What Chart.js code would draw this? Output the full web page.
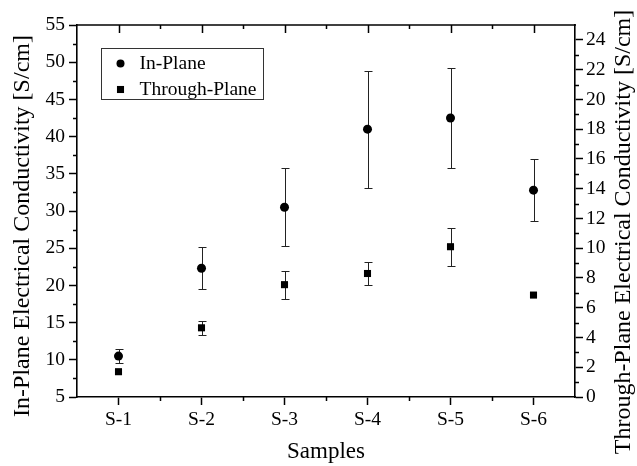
<!DOCTYPE html>
<html>
<head>
<meta charset="utf-8">
<title>Electrical Conductivity</title>
<script src="https://cdn.jsdelivr.net/npm/chart.js@4.4.1/dist/chart.umd.min.js"></script>
<style>
  html, body { margin: 0; padding: 0; background: #fff; }
</style>
</head>
<body>
<canvas id="chart" width="637" height="466"></canvas>
<script>
// 데이터
const samples = ['S-1', 'S-2', 'S-3', 'S-4', 'S-5', 'S-6'];

const inPlane = [10.5, 22.3, 30.5, 41.0, 42.5, 32.8];
const inPlaneLow = [9.6, 19.5, 25.3, 33.1, 35.8, 28.6];
const inPlaneHigh = [11.5, 25.1, 35.8, 48.8, 49.2, 37.0];

const throughPlane = [1.7, 4.65, 7.55, 8.3, 10.1, 6.85];
const throughPlaneLow = [1.7, 4.2, 6.6, 7.55, 8.8, 6.85];
const throughPlaneHigh = [1.7, 5.1, 8.5, 9.05, 11.35, 6.85];

// 축 범위
const leftRange = [5, 55];
const leftStep = 5;
const rightRange = [0, 25];
const rightStep = 2;

const xTitle = 'Samples';
const leftTitle = 'In-Plane Electrical Conductivity [S/cm]';
const rightTitle = 'Through-Plane Electrical Conductivity [S/cm]';

const FONT = "'Liberation Serif', 'Times New Roman', serif";

Chart.defaults.font.family = FONT;
Chart.defaults.font.size = 19.5;
Chart.defaults.color = '#000';

// 오차 막대
const errorBarPlugin = {
    id: 'errorBars',
    beforeDatasetsDraw(chart) {
        const ctx = chart.ctx;
        const xs = chart.scales.x;
        ctx.save();
        ctx.strokeStyle = '#222';
        ctx.lineWidth = 1;
        chart.data.datasets.forEach(ds => {
            const ys = chart.scales[ds.yAxisID];
            ds.errLow.forEach((lo, i) => {
                const hi = ds.errHigh[i];
                if (hi - lo < 0.05) return;
                const px = Math.round(xs.getPixelForValue(i)) + 0.5;
                const y1 = Math.round(ys.getPixelForValue(hi)) + 0.5;
                const y2 = Math.round(ys.getPixelForValue(lo)) + 0.5;
                ctx.beginPath();
                ctx.moveTo(px, y1);
                ctx.lineTo(px, y2);
                ctx.moveTo(px - 4, y1);
                ctx.lineTo(px + 4, y1);
                ctx.moveTo(px - 4, y2);
                ctx.lineTo(px + 4, y2);
                ctx.stroke();
            });
        });
        ctx.restore();
    }
};

// 위쪽 테두리, 보조 눈금
const framePlugin = {
    id: 'frame',
    afterDraw(chart) {
        const { ctx, chartArea: a, scales } = chart;
        const mids = s => s.ticks.slice(1).map((t, i) => (t.value + s.ticks[i].value) / 2);
        ctx.save();
        ctx.strokeStyle = '#000';
        ctx.lineWidth = 1.6;
        ctx.beginPath();
        ctx.moveTo(a.left - 1, a.top);
        ctx.lineTo(a.right + 1, a.top);
        ctx.stroke();

        ctx.lineWidth = 1.5;
        ctx.beginPath();
        const xs = scales.x;
        xs.ticks.forEach(t => {
            const px = Math.round(xs.getPixelForValue(t.value)) + 0.5;
            ctx.moveTo(px, a.top);
            ctx.lineTo(px, a.top + 8);
        });
        mids(xs).forEach(v => {
            const px = Math.round(xs.getPixelForValue(v)) + 0.5;
            ctx.moveTo(px, a.top);
            ctx.lineTo(px, a.top + 4);
            ctx.moveTo(px, a.bottom);
            ctx.lineTo(px, a.bottom + 4);
        });
        mids(scales.y).forEach(v => {
            const py = Math.round(scales.y.getPixelForValue(v)) + 0.5;
            ctx.moveTo(a.left - 4, py);
            ctx.lineTo(a.left, py);
        });
        mids(scales.y2).forEach(v => {
            const py = Math.round(scales.y2.getPixelForValue(v)) + 0.5;
            ctx.moveTo(a.right, py);
            ctx.lineTo(a.right + 4, py);
        });
        ctx.stroke();
        ctx.restore();
    }
};

// 세로축 제목 (둘 다 아래에서 위로)
const sideTitlePlugin = {
    id: 'sideTitles',
    afterDraw(chart) {
        const ctx = chart.ctx;
        ctx.save();
        ctx.fillStyle = '#000';
        ctx.font = '24px ' + FONT;
        ctx.textAlign = 'center';
        ctx.textBaseline = 'middle';
        [[22.5, 226, leftTitle], [chart.width - 13, 232, rightTitle]].forEach(([x, y, text]) => {
            ctx.save();
            ctx.translate(x, y);
            ctx.rotate(-Math.PI / 2);
            ctx.fillText(text, 0, 0);
            ctx.restore();
        });
        ctx.restore();
    }
};

// 범례 (차트 영역 안, 테두리 있음)
const boxLegendPlugin = {
    id: 'boxLegend',
    afterDraw(chart) {
        const { ctx, chartArea: a } = chart;
        const left = Math.round(a.left + 24) + 0.5;
        const top = Math.round(a.top + 23) + 0.5;
        ctx.save();
        ctx.strokeStyle = '#333';
        ctx.lineWidth = 1;
        ctx.strokeRect(left, top, 162, 51);
        ctx.fillStyle = '#000';
        ctx.font = '19.5px ' + FONT;
        ctx.textBaseline = 'middle';
        chart.data.datasets.forEach((ds, i) => {
            const cx = left + 19;
            const cy = top + 15 + i * 26;
            if (ds.pointStyle === 'rect') {
                const h = ds.pointRadius * Math.SQRT1_2;
                ctx.fillRect(cx - h, cy - h, h * 2, h * 2);
            } else {
                ctx.beginPath();
                ctx.arc(cx, cy, 4, 0, Math.PI * 2);
                ctx.fill();
            }
            ctx.fillText(ds.label, left + 38, cy);
        });
        ctx.restore();
    }
};

const axisGrid = { drawOnChartArea: false, tickLength: 8, tickColor: '#000', tickWidth: 1.5 };
const axisBorder = { display: true, color: '#000', width: 1.6 };

new Chart(document.getElementById('chart'), {
    type: 'line',
    data: {
        labels: samples,
        datasets: [
            {
                label: 'In-Plane',
                data: inPlane,
                errLow: inPlaneLow,
                errHigh: inPlaneHigh,
                yAxisID: 'y',
                showLine: false,
                pointStyle: 'circle',
                pointRadius: 4.5,
                pointBorderWidth: 0,
                pointBackgroundColor: '#000',
                pointBorderColor: '#000'
            },
            {
                label: 'Through-Plane',
                data: throughPlane,
                errLow: throughPlaneLow,
                errHigh: throughPlaneHigh,
                yAxisID: 'y2',
                showLine: false,
                pointStyle: 'rect',
                pointRadius: 5,
                pointBorderWidth: 0,
                pointBackgroundColor: '#000',
                pointBorderColor: '#000'
            }
        ]
    },
    options: {
        responsive: false,
        animation: false,
        devicePixelRatio: 1,
        layout: { padding: { top: 25, left: 0, right: 0, bottom: 0 } },
        plugins: {
            legend: { display: false },
            tooltip: { enabled: false }
        },
        scales: {
            x: {
                type: 'category',
                offset: true,
                grid: { ...axisGrid, offset: false },
                border: axisBorder,
                ticks: { padding: 3, maxRotation: 0, autoSkip: false },
                title: { display: true, text: xTitle, font: { size: 23 }, padding: 0 },
                afterFit(s) { s.height = 69; }
            },
            y: {
                type: 'linear',
                position: 'left',
                min: leftRange[0],
                max: leftRange[1],
                grid: axisGrid,
                border: axisBorder,
                ticks: { stepSize: leftStep, padding: 4 },
                afterFit(s) { s.width = 77; }
            },
            y2: {
                type: 'linear',
                position: 'right',
                min: rightRange[0],
                max: rightRange[1],
                grid: axisGrid,
                border: axisBorder,
                ticks: { stepSize: rightStep, padding: 3, includeBounds: false },
                afterFit(s) { s.width = 62; }
            }
        }
    },
    plugins: [errorBarPlugin, framePlugin, sideTitlePlugin, boxLegendPlugin]
});
</script>
</body>
</html>
